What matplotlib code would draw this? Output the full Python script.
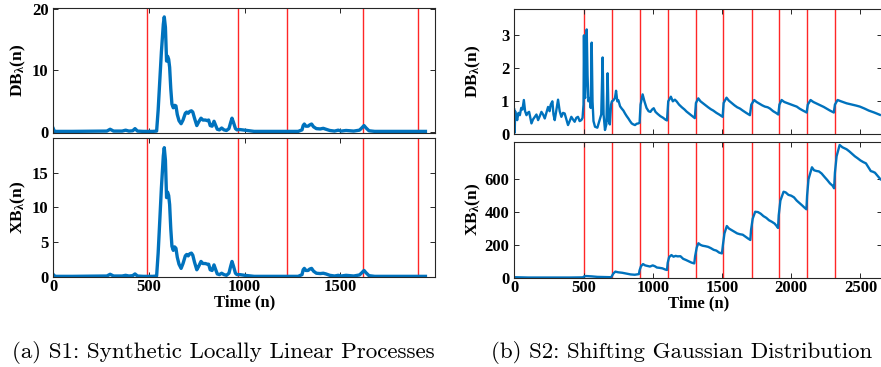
import numpy as np
import matplotlib
matplotlib.use("Agg")
import matplotlib.pyplot as plt

# ---- S1: synthetic locally linear processes (left) ----
s1_n = [0, 5, 15, 100, 200, 280, 297, 315, 360, 378, 395, 415, 427, 440, 470, 500, 520,
        540, 548, 556, 565, 575, 580, 586, 592, 597, 603, 608, 614, 620, 627, 634, 641,
        648, 657, 668, 678, 690, 697, 705, 713, 722, 729, 738, 750, 760, 772, 782, 795,
        805, 812, 820, 830, 840, 849, 857, 868, 880, 892, 905, 918, 927, 934, 942, 952,
        960, 975, 1000, 1050, 1100, 1200, 1280, 1300, 1306, 1312, 1320, 1332, 1340, 1350,
        1360, 1375, 1395, 1411, 1425, 1445, 1470, 1489, 1505, 1530, 1570, 1600, 1612,
        1624, 1635, 1650, 1680, 1750, 1850, 1945]
s1_db = [0.5, 0.1, 0.05, 0.05, 0.08, 0.1, 0.4, 0.1, 0.1, 0.25, 0.1, 0.15, 0.5, 0.1, 0.05, 0.05, 0.05,
         0.1, 3.5, 8.0, 13.0, 17.5, 18.7, 17.0, 11.5, 12.3, 11.8, 10.5, 7.0, 4.5, 3.9, 4.3, 4.2,
         2.8, 1.8, 1.3, 1.9, 3.0, 3.2, 3.0, 3.3, 3.4, 3.2, 2.2, 1.0, 1.6, 2.2, 1.9, 1.9,
         1.8, 1.9, 1.0, 0.9, 1.7, 1.0, 0.4, 0.3, 0.6, 0.3, 0.2, 0.5, 1.5, 2.2, 1.5, 0.5,
         0.3, 0.35, 0.25, 0.05, 0.05, 0.05, 0.05, 0.3, 1.0, 1.25, 0.9, 0.9, 1.1, 1.25,
         0.8, 0.5, 0.45, 0.55, 0.4, 0.2, 0.1, 0.25, 0.1, 0.2, 0.1, 0.25, 0.6,
         1.0, 0.6, 0.15, 0.05, 0.05, 0.05, 0.05]
s1_xb = [0.3, 0.1, 0.05, 0.05, 0.08, 0.1, 0.35, 0.1, 0.1, 0.2, 0.1, 0.15, 0.4, 0.1, 0.05, 0.05, 0.05,
         0.1, 3.4, 7.8, 12.8, 17.4, 18.6, 16.8, 11.4, 12.2, 11.7, 10.4, 6.9, 4.4, 3.8, 4.3, 4.1,
         2.8, 1.8, 1.2, 1.9, 3.0, 3.2, 3.0, 3.3, 3.4, 3.1, 2.1, 1.0, 1.5, 2.2, 1.9, 1.9,
         1.8, 1.8, 1.0, 0.9, 1.7, 1.0, 0.4, 0.3, 0.5, 0.3, 0.2, 0.5, 1.5, 2.2, 1.5, 0.5,
         0.3, 0.3, 0.2, 0.05, 0.05, 0.05, 0.05, 0.3, 1.0, 1.2, 0.9, 0.9, 1.1, 1.2,
         0.8, 0.5, 0.45, 0.5, 0.4, 0.2, 0.1, 0.2, 0.1, 0.2, 0.1, 0.25, 0.55,
         0.9, 0.55, 0.15, 0.05, 0.05, 0.05, 0.05]
s1_changes = [490, 967, 1222, 1620, 1908]

# ---- S2: shifting gaussian distribution (right) ----
s2_db_n = [0, 3, 6, 12, 21, 30, 40, 50, 59, 69, 78, 88, 97, 107, 116, 124, 135, 148, 160, 172,
           184, 196, 208, 220, 232, 244, 255, 263, 275, 283, 292, 304, 316, 328, 340, 352, 364,
           376, 388, 400, 412, 424, 436, 448, 460, 472, 484, 493, 500, 503, 507, 512, 518, 523,
           529, 535, 546, 552, 559, 565, 572, 583, 600, 614, 628, 638, 645, 655, 665, 674, 682,
           690, 699, 705, 716, 727, 735, 744, 752, 764, 776, 788, 800, 812, 824, 836, 848, 860,
           872, 884, 896, 905, 912, 927, 940, 955, 970, 983, 995, 1007, 1020, 1035, 1055, 1075,
           1090, 1103, 1112, 1131, 1145, 1160, 1172, 1190, 1210, 1230, 1244, 1265, 1285, 1304,
           1312, 1329, 1345, 1360, 1380, 1400, 1420, 1437, 1460, 1480, 1505, 1512, 1533, 1550,
           1570, 1590, 1610, 1630, 1650, 1675, 1702, 1712, 1733, 1750, 1770, 1790, 1810, 1830,
           1847, 1870, 1890, 1907, 1915, 1931, 1950, 1975, 2000, 2020, 2040, 2060, 2085, 2112,
           2120, 2140, 2160, 2185, 2210, 2235, 2255, 2280, 2308, 2316, 2335, 2360, 2400, 2440,
           2470, 2496, 2530, 2560, 2600, 2641]
s2_db = [0.75, 0.05, 0.7, 0.55, 0.43, 0.65, 0.58, 0.8, 0.75, 1.04, 0.7, 0.58, 0.65, 0.68, 0.5, 0.33,
         0.45, 0.53, 0.6, 0.43, 0.55, 0.68, 0.6, 0.48, 0.65, 0.83, 0.7, 0.9, 1.0, 0.6, 0.43, 0.75,
         1.05, 0.7, 0.53, 0.65, 0.63, 0.45, 0.28, 0.4, 0.53, 0.45, 0.38, 0.5, 0.53, 0.4, 0.43, 0.5,
         0.9, 3.0, 1.2, 1.1, 2.0, 3.18, 1.8, 1.0, 1.1, 0.8, 2.78, 1.0, 0.4, 0.23, 0.2, 0.4, 0.6,
         2.33, 0.6, 0.13, 0.3, 1.85, 0.4, 0.3, 0.9, 1.0, 1.03, 1.1, 1.32, 1.0, 1.03, 0.85, 0.78,
         0.72, 0.63, 0.55, 0.48, 0.4, 0.33, 0.3, 0.28, 0.32, 0.33, 0.35, 0.9, 1.21, 1.0, 0.8, 0.7,
         0.68, 0.75, 0.79, 0.68, 0.62, 0.55, 0.5, 0.45, 0.42, 1.0, 1.14, 1.0, 1.05, 1.0, 0.9, 0.82,
         0.75, 0.69, 0.62, 0.55, 0.49, 0.95, 1.09, 1.0, 0.95, 0.88, 0.82, 0.76, 0.72, 0.65, 0.6,
         0.53, 0.95, 1.11, 1.02, 0.95, 0.88, 0.82, 0.78, 0.72, 0.65, 0.58, 0.9, 1.04, 0.98, 0.93,
         0.88, 0.84, 0.82, 0.78, 0.7, 0.65, 0.6, 0.9, 1.04, 0.98, 0.94, 0.9, 0.87, 0.84, 0.78,
         0.72, 0.66, 0.9, 1.04, 0.98, 0.93, 0.88, 0.83, 0.78, 0.72, 0.66, 0.9, 1.04, 1.0, 0.94,
         0.9, 0.87, 0.84, 0.78, 0.72, 0.66, 0.59]
s2_xb_n = [0, 50, 100, 200, 300, 400, 495, 505, 520, 560, 600, 650, 700, 705, 715, 730, 750, 780,
           810, 840, 870, 900, 905, 915, 930, 945, 960, 980, 1000, 1015, 1030, 1050, 1070, 1090,
           1103, 1108, 1118, 1135, 1150, 1165, 1180, 1200, 1220, 1240, 1260, 1280, 1300, 1306,
           1318, 1330, 1345, 1360, 1380, 1400, 1420, 1440, 1460, 1480, 1500, 1507, 1518, 1535,
           1550, 1570, 1590, 1610, 1630, 1650, 1670, 1690, 1705, 1710, 1722, 1740, 1760, 1780,
           1800, 1820, 1840, 1860, 1880, 1895, 1905, 1910, 1922, 1945, 1960, 1980, 2000, 2020,
           2040, 2060, 2080, 2095, 2110, 2115, 2125, 2150, 2165, 2185, 2200, 2220, 2240, 2260,
           2280, 2300, 2310, 2316, 2328, 2350, 2370, 2400, 2420, 2440, 2460, 2480, 2500, 2520,
           2540, 2560, 2575, 2590, 2605, 2620, 2635, 2645]
s2_xb = [3, 2, 1, 1, 1, 1, 2, 8, 10, 8, 5, 4, 3, 10, 25, 37, 33, 30, 25, 20, 18, 22, 45, 70, 83,
         75, 72, 68, 75, 70, 62, 60, 57, 50, 47, 90, 125, 138, 128, 133, 130, 131, 115, 108, 100,
         92, 87, 130, 185, 210, 200, 195, 192, 188, 180, 170, 165, 153, 148, 200, 270, 315, 300,
         290, 280, 270, 265, 262, 250, 238, 230, 290, 360, 402, 400, 390, 375, 365, 350, 341,
         330, 315, 303, 380, 470, 524, 520, 505, 500, 490, 470, 455, 440, 428, 417, 500, 600,
         673, 655, 650, 648, 635, 615, 596, 575, 560, 545, 640, 740, 809, 795, 783, 770, 755,
         740, 728, 715, 705, 697, 670, 650, 646, 640, 625, 610, 600]
s2_changes = [503, 705, 907, 1108, 1310, 1509, 1714, 1913, 2116, 2315]

BLUE = "#0072BD"
SPINE = "#262626"

plt.rcParams["font.family"] = "Liberation Serif"
plt.rcParams["font.weight"] = "bold"
plt.rcParams["mathtext.fontset"] = "custom"
plt.rcParams["mathtext.rm"] = "Liberation Serif:bold"
plt.rcParams["mathtext.it"] = "Liberation Serif:bold"
plt.rcParams["mathtext.bf"] = "Liberation Serif:bold"

W, H = 881, 367
fig = plt.figure(figsize=(W / 100, H / 100), dpi=100)


def box(l, t, r, b):
    return [l / W, 1 - b / H, (r - l) / W, (b - t) / H]


def style(ax, xlim, ylim, xticks, yticks, show_x):
    ax.set_xlim(*xlim)
    ax.set_ylim(*ylim)
    ax.set_xticks(xticks)
    ax.set_yticks(yticks)
    ax.tick_params(direction="in", length=3.5, width=0.7, color=SPINE,
                   top=True, right=True, labelsize=12)
    ax.tick_params(axis="x", pad=1.5)
    ax.tick_params(axis="y", pad=3.5)
    for lab in ax.get_xticklabels() + ax.get_yticklabels():
        lab.set_fontweight("bold")
    if not show_x:
        ax.tick_params(labelbottom=False)
    for s in ax.spines.values():
        s.set_color(SPINE)
        s.set_linewidth(0.8)


def panel(rect, n, y, changes, xlim, ylim, xticks, yticks, ylabel, show_x, lw, ylx):
    ax = fig.add_axes(box(*rect))
    for c in changes:
        ax.axvline(c, color="red", lw=1.0, alpha=0.85, zorder=1)
    ax.plot(n, y, color=BLUE, lw=lw, zorder=2)
    style(ax, xlim, ylim, xticks, yticks, show_x)
    ax.set_ylabel(ylabel, fontsize=12.5, fontweight="bold")
    ax.yaxis.set_label_coords(ylx, 0.5)
    if show_x:
        ax.set_xlabel("Time (n)", fontsize=12, fontweight="bold", va="top")
        ax.xaxis.set_label_coords(0.5, -0.128)
    return ax


panel((53.3, 8.3, 435, 132.5), s1_n, s1_db, s1_changes, (0, 1995), (-0.13, 20.1),
      [0, 500, 1000, 1500], [0, 10, 20], r"DB$_\lambda$(n)", False, 2.4, -0.066)
panel((53.3, 138.3, 435, 276.7), s1_n, s1_xb, s1_changes, (0, 1995), (0, 19.95),
      [0, 500, 1000, 1500], [0, 5, 10, 15], r"XB$_\lambda$(n)", True, 2.4, -0.066)
panel((514.3, 9.3, 882, 134.3), s2_db_n, s2_db, s2_changes, (0, 2656), (0, 3.79),
      [0, 500, 1000, 1500, 2000, 2500], [0, 1, 2, 3], r"DB$_\lambda$(n)", False, 1.7, -0.085)
panel((514.3, 141.7, 882, 277.7), s2_xb_n, s2_xb, s2_changes, (0, 2656), (0, 829),
      [0, 500, 1000, 1500, 2000, 2500], [0, 200, 400, 600], r"XB$_\lambda$(n)", True, 1.7, -0.085)

fig.text(223 / W, 1 - 352 / H, "(a) S1: Synthetic Locally Linear Processes",
         family="cmr10", weight="normal", fontsize=16.6, ha="center", va="center")
fig.text(682 / W, 1 - 352 / H, "(b) S2: Shifting Gaussian Distribution",
         family="cmr10", weight="normal", fontsize=16.5, ha="center", va="center")

fig.savefig("out.png", dpi=100)
